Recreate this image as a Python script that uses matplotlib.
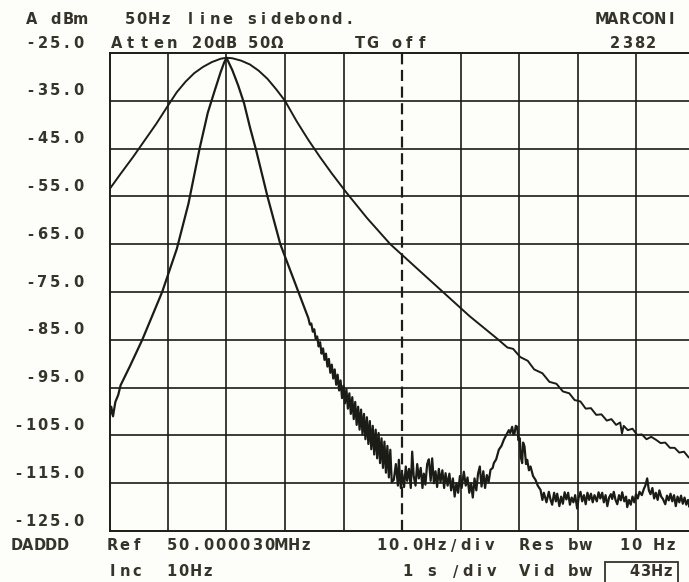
import numpy as np
import matplotlib.pyplot as plt
from matplotlib.patches import Rectangle

# frequency offset from the reference (Hz) and level (dBm)
wide_f = [-50, -48, -46, -44, -42, -40, -38.5, -37, -35.5, -34, -32.5, -31, -30, -29,
          -27.5, -26, -24.5, -23, -21.5, -20, -18, -16, -14, -12, -9.5, -6, -2, 2.5, 7, 11.5, 16.5,
          18, 19, 20.2, 21.5, 22.6, 24, 25.2, 26.4, 27.5, 28.6, 29.5, 30.5, 31.4,
          32.3, 33.2, 34.1, 35, 35.8, 36.6, 37.3, 37.6, 37.9, 38.6, 39.4, 40.2,
          41, 41.8, 42.6, 43.4, 44.2, 45, 45.8, 46.6, 47.4, 48.2, 49, 50]
wide_db = [-53.5, -50.1, -46.8, -43.3, -39.8, -36.0, -33.2, -31.0, -29.2, -27.9, -26.9, -26.2, -26.0, -26.1,
           -26.6, -27.4, -28.7, -30.4, -32.6, -35.0, -39.3, -43.2, -46.8, -50.2, -54.2, -59.5, -65.0, -70.0,
           -75.0, -80.0, -85.0,
           -86.6, -86.9, -88.6, -89.4, -91.2, -92.0, -93.8, -94.2, -95.8, -96.2, -97.6, -97.9, -99.4,
           -99.3, -100.7, -100.6, -101.9, -101.6, -102.8, -102.3, -104.6, -103.0, -103.9, -103.6, -104.9,
           -104.8, -105.8, -105.3, -105.9, -106.6, -106.5, -107.6, -107.6, -108.6, -108.4, -109.6, -110.0]

narrow_f = [-50, -49.7, -49.4, -49.0, -48.5, -48.1, -46.5, -44.4, -41, -38.5, -36.5, -34.6,
            -33.2, -32.0, -31.0, -30.4, -30, -29.0, -28.0, -27.0, -26.0, -24.9, -23, -20.8, -17.7,
            -16.0, -15.75, -15.5, -15.25, -15.0, -14.75, -14.5, -14.25, -14.0, -13.75, -13.5,
            -13.25, -13.0, -12.75, -12.5, -12.25, -12.0, -11.75, -11.5, -11.25, -11.0, -10.75,
            -10.5, -10.25, -10.0, -9.75, -9.5, -9.25, -9.0, -8.75, -8.5, -8.25, -8.0, -7.75,
            -7.5, -7.25, -7.0, -6.75, -6.5, -6.25, -6.0, -5.75, -5.5, -5.25, -5.0, -4.75,
            -4.5, -4.25, -4.0, -3.75, -3.5, -3.25, -3.0, -2.75, -2.5, -2.25, -2.0, -1.75,
            -1.4, -1.05, -0.7, -0.54, -0.2, 0.03, 0.35, 0.65, 0.88, 1.2, 1.5, 1.74, 2.0, 2.31,
            2.6, 2.88, 3.2, 3.5, 3.73, 4.0, 4.3, 4.59, 4.9, 5.16, 5.45, 5.73, 6.0, 6.3, 6.58,
            6.9, 7.2, 7.44, 7.8, 8.1, 8.4, 8.7, 9.0, 9.3, 9.6, 9.9, 10.2, 10.57, 10.9, 11.2,
            11.5, 11.8, 12.1, 12.4, 12.7, 13.0, 13.3, 13.6, 13.9, 14.2, 14.5, 14.8, 15.13,
            15.5, 15.7, 16.1, 16.55, 17.0, 17.41, 17.8, 18.26, 18.5, 18.83, 19.05, 19.23,
            19.45, 19.69, 19.9, 20.14, 20.3, 20.54, 20.7, 20.94, 21.2, 21.4, 21.7, 21.97,
            22.4, 22.82, 23.2, 23.68, 24.0, 24.25,
            24.7, 25.1, 25.4, 25.67, 26.0, 26.3, 26.53, 26.9, 27.2, 27.5, 27.8, 28.1, 28.4,
            28.7, 29.0, 29.3, 29.6, 29.94, 30.2, 30.51, 30.8, 31.1, 31.4, 31.7, 32.0, 32.3,
            32.6, 32.9, 33.3, 33.6, 33.9, 34.22, 34.5, 34.8, 35.1, 35.4, 35.7, 35.93, 36.2,
            36.5, 36.8, 37.1, 37.4, 37.64, 38.0, 38.3, 38.5, 38.8, 39.1, 39.4, 39.7, 40.0,
            40.3, 40.6, 41.0, 41.34, 41.6, 41.91, 42.2, 42.48, 42.8, 43.1, 43.4, 43.7, 44.0,
            44.3, 44.6, 45.0, 45.3, 45.6, 45.9, 46.2, 46.5, 46.8, 47.1, 47.4, 47.7, 48.0,
            48.3, 48.6, 48.9, 49.15, 49.5, 50]
narrow_db = [-101.5, -99.0, -101.0, -98.0, -96.5, -94.5, -90.5, -85.0, -75.0, -66.0, -56.5, -45.0,
             -37.5, -32.8, -29.0, -27.0, -26.0, -28.6, -31.8, -35.5, -40.5, -45.5, -55.0, -65.0, -75.0,
             -80.5, -81.8, -81.6, -83.3, -82.8, -84.8, -84.3, -86.4, -85.5, -87.9, -86.8,
             -89.2, -87.9, -90.6, -89.0, -91.9, -90.2, -93.1, -91.2, -94.4, -92.3, -95.6,
             -93.5, -97.2, -94.6, -98.3, -95.3, -99.4, -96.2, -100.5, -97.0, -101.6, -98.0, -102.8,
             -99.0, -103.8, -99.6, -104.8, -100.5, -105.8, -101.2, -106.8, -102.0, -107.9, -103.0, -109.0,
             -103.8, -109.8, -104.5, -110.8, -105.6, -111.8, -106.3, -112.8, -107.2, -113.8, -108.0, -114.8,
             -114.3, -111.0, -115.5, -110.1, -116.0, -113.0, -115.8, -111.5, -114.5, -112.0, -116.0, -108.4, -113.5, -115.5,
             -111.0, -114.0, -111.8, -116.0, -113.0, -115.3, -111.0, -110.0, -114.5, -109.8, -115.0, -112.5, -115.8, -112.0, -114.8,
             -112.3, -116.0, -112.9, -115.5, -113.0, -116.5, -114.0, -117.8, -115.0, -117.0, -113.5, -116.0, -112.6, -115.5, -113.8,
             -117.0, -115.0, -118.0, -114.0, -116.5, -113.0, -111.5, -115.7, -112.5, -116.0, -113.3, -114.8, -112.2,
             -111.8, -110.8, -110.0, -108.0, -107.2, -105.9, -105.0, -103.9, -104.5, -103.2, -104.8, -104.6,
             -103.0, -103.2, -106.0, -105.6, -109.5, -110.8, -106.5, -107.3, -111.0, -110.1, -112.3, -111.5,
             -113.5, -114.3, -115.5, -116.4, -118.5, -117.0,
             -119.0, -116.8, -118.5, -119.5, -117.0, -118.8, -117.2, -119.8, -117.8, -119.3, -116.9, -118.4, -117.0,
             -119.5, -118.0, -119.0, -117.5, -120.3, -118.0, -116.8, -118.8, -117.5, -119.4, -117.0, -118.5, -117.2,
             -119.0, -117.5, -118.8, -116.9, -118.2, -117.0, -119.0, -117.5, -119.8, -118.0, -117.3, -118.3, -116.8,
             -118.5, -119.4, -117.5, -118.6, -116.9, -118.8, -117.8, -120.0, -118.5, -119.5, -117.8, -119.0, -117.3,
             -118.2, -116.8, -117.5, -116.2, -115.5, -114.0, -116.5, -117.3, -116.0, -118.2, -117.0, -118.5, -116.5,
             -117.8, -118.3, -119.4, -117.6, -118.6, -117.2, -118.8, -117.5, -119.8, -117.8, -119.0, -117.6, -119.3,
             -118.0, -119.5, -118.5, -120.0, -118.5, -119.0]

level_ticks = [-25, -35, -45, -55, -65, -75, -85, -95, -105, -115, -125]
freq_ticks = [-50, -40, -30, -20, -10, 0, 10, 20, 30, 40, 50]

W, H = 689, 582
ink = '#1c1c16'
txt = '#34342a'

fig = plt.figure(figsize=(W / 100, H / 100), dpi=100)
fig.patch.set_facecolor('#fdfdfa')

# grid box (right edge runs off the page like the screen dump)
x0, x1, y0, y1 = 109.5, 694.5, 53, 531
ax = fig.add_axes([x0 / W, 1 - y1 / H, (x1 - x0) / W, (y1 - y0) / H])
ax.set_facecolor('#fdfdfa')
ax.set_xlim(-50, 50)
ax.set_ylim(-125, -25)
ax.set_xticks([])
ax.set_yticks([])
for s in ['left', 'top', 'bottom']:
    ax.spines[s].set_color(ink)
    ax.spines[s].set_linewidth(1.4)
ax.spines['right'].set_visible(False)

for f in freq_ticks[1:-1]:
    if f == 0:
        ax.axvline(f, color=ink, lw=1.6, ls=(0, (5, 2.5)), zorder=1)
    else:
        ax.axvline(f, color=ink, lw=1.2, zorder=1)
for lv in level_ticks[1:-1]:
    ax.axhline(lv, color=ink, lw=1.2, zorder=1)

ax.plot(wide_f, wide_db, color=ink, lw=1.4, zorder=3)
ax.plot(narrow_f, narrow_db, color=ink, lw=1.6, zorder=3)


def put(x, y, s, pitch=12.2):
    # plotter style text: one character per fixed cell
    for i, ch in enumerate(s):
        if ch != ' ':
            fig.text((x + i * pitch + 4.5) / W, 1 - y / H, ch, ha='center', va='center',
                     fontsize=10.5, fontweight='bold', color=txt, family='DejaVu Sans')


put(27, 20, 'A dBm')
put(125, 20, '50Hz line sidebond.')
put(597, 20, 'MARCONI', pitch=11.6)
put(112, 43, 'Atten', pitch=14)
put(192, 43, '20dB', pitch=11.5)
put(248, 43, '50Ω')
put(355, 43, 'TG off', pitch=12.4)
put(610, 43, '2382')

for lv in level_ticks:
    lab = f'{lv:.1f}'
    yy = y0 + (-25 - lv) / 100 * (y1 - y0) - 10
    put(84 - len(lab) * 12 + 2, yy, lab, pitch=12)

put(12, 546, 'DADDD', pitch=11.5)
put(108, 546, 'Ref')
put(167, 546, '50.000030MHz')
put(377, 546, '10.0Hz/div', pitch=12)
put(520, 546, 'Res bw')
put(620, 546, '10 Hz', pitch=11.5)
put(108, 572, 'Inc')
put(167, 572, '10Hz')
put(403, 572, '1 s /div', pitch=12)
put(520, 572, 'Vid bw')
put(630, 572, '43Hz', pitch=11)
fig.patches.append(Rectangle((605 / W, 1 - 584 / H), 73 / W, 22 / H, transform=fig.transFigure,
                             fill=False, edgecolor=txt, lw=1.3))

fig.savefig('out.png', dpi=100, facecolor=fig.get_facecolor())
